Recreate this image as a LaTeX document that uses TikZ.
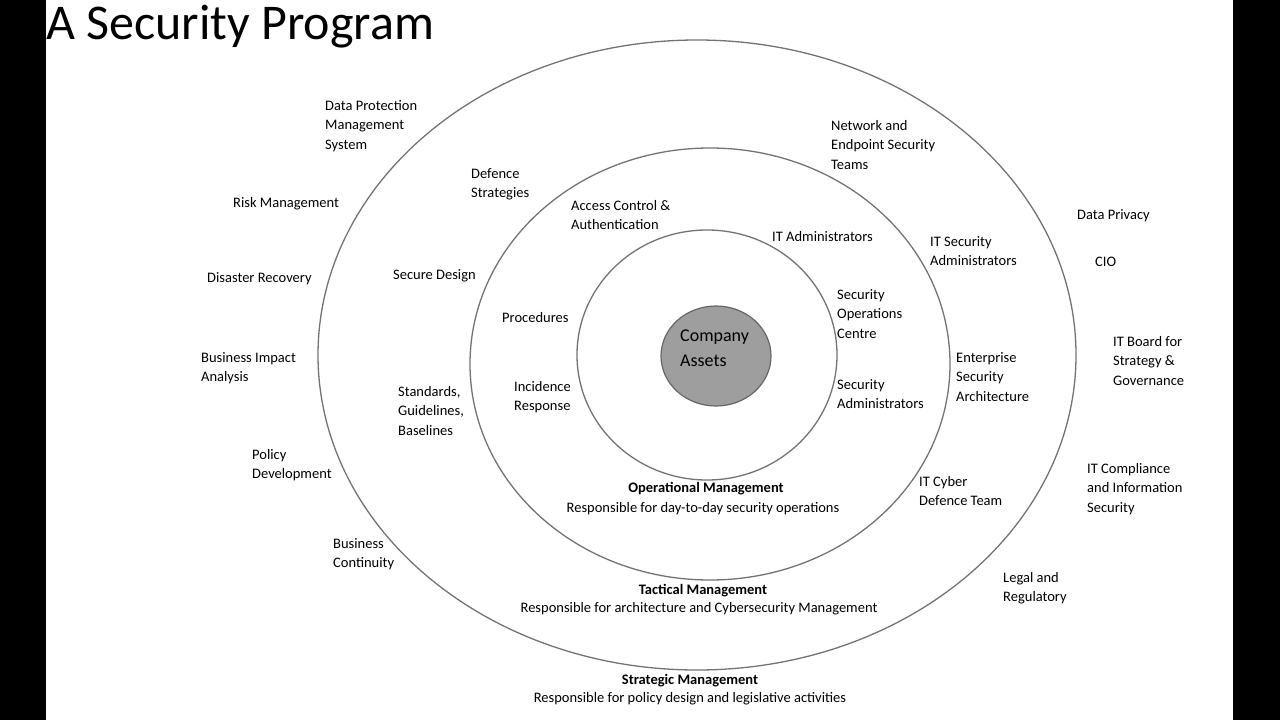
\documentclass[tikz,border=0pt]{standalone}
\usepackage{fontspec}
\setmainfont{Carlito}
\begin{document}
\begin{tikzpicture}[x=1pt,y=-1pt,
  lbl/.style={anchor=north west,inner sep=0pt,align=left,font=\fontsize{14.5}{19.5}\selectfont},
  ctr/.style={inner sep=0pt,align=center,font=\fontsize{14.5}{19.5}\selectfont},
  ring/.style={draw=black!55,line width=1.3pt}]
\useasboundingbox (0,0) rectangle (1280,720);
\fill[black] (0,0) rectangle (46,720);
\fill[black] (1233,0) rectangle (1280,720);
\draw[ring] (697,355) ellipse [x radius=379,y radius=315];
\draw[ring] (710,364) ellipse [x radius=240,y radius=216];
\draw[ring] (707,355) ellipse [x radius=130,y radius=125];
\draw[black!60,line width=1.2pt,fill=black!38] (716,356) ellipse [x radius=55,y radius=50];
\node[anchor=west,inner sep=0pt,font=\fontsize{50}{60}\selectfont] (title) at (46,27) {A Security Program};
\node[lbl,font=\fontsize{18}{25}\selectfont] (ca) at (680,330) {Company\\Assets};
\node[lbl] (a1) at (325,100) {Data Protection\\Management\\System};
\node[lbl] (a2) at (233,197) {Risk Management};
\node[lbl] (a3) at (207,272) {Disaster Recovery};
\node[lbl] (a4) at (201,352) {Business Impact\\Analysis};
\node[lbl] (a5) at (252,449) {Policy\\Development};
\node[lbl] (a6) at (333,538) {Business\\Continuity};
\node[lbl] (b1) at (471,168) {Defence\\Strategies};
\node[lbl] (b2) at (571,200) {Access Control \&\\Authentication};
\node[lbl] (b3) at (393,269) {Secure Design};
\node[lbl] (b4) at (502,312) {Procedures};
\node[lbl] (b5) at (398,386) {Standards,\\Guidelines,\\Baselines};
\node[lbl] (b6) at (514,381) {Incidence\\Response};
\node[lbl] (c1) at (772,231) {IT Administrators};
\node[lbl] (c2) at (837,289) {Security\\Operations\\Centre};
\node[lbl] (c3) at (837,379) {Security\\Administrators};
\node[lbl] (d1) at (831,120) {Network and\\Endpoint Security\\Teams};
\node[lbl] (d2) at (930,236) {IT Security\\Administrators};
\node[lbl] (d3) at (956,352) {Enterprise\\Security\\Architecture};
\node[lbl] (d4) at (919,476) {IT Cyber\\Defence Team};
\node[lbl] (e1) at (1077,209) {Data Privacy};
\node[lbl] (e2) at (1095,257) {CIO};
\node[lbl] (e3) at (1113,336) {IT Board for\\Strategy \&\\Governance};
\node[lbl] (e4) at (1087,463) {IT Compliance\\and Information\\Security};
\node[lbl] (e5) at (1003,572) {Legal and\\Regulatory};
\node[ctr,font=\bfseries\fontsize{14.5}{19.5}\selectfont] (m1) at (706,489) {Operational Management};
\node[ctr] (m1s) at (703,509) {Responsible for day-to-day security operations};
\node[ctr,font=\bfseries\fontsize{14.5}{19.5}\selectfont] (m2) at (703,591) {Tactical Management};
\node[ctr] (m2s) at (699,609) {Responsible for architecture and Cybersecurity Management};
\node[ctr,font=\bfseries\fontsize{14.5}{19.5}\selectfont] (m3) at (690,681) {Strategic Management};
\node[ctr] (m3s) at (690,699) {Responsible for policy design and legislative activities};
\end{tikzpicture}
\end{document}
